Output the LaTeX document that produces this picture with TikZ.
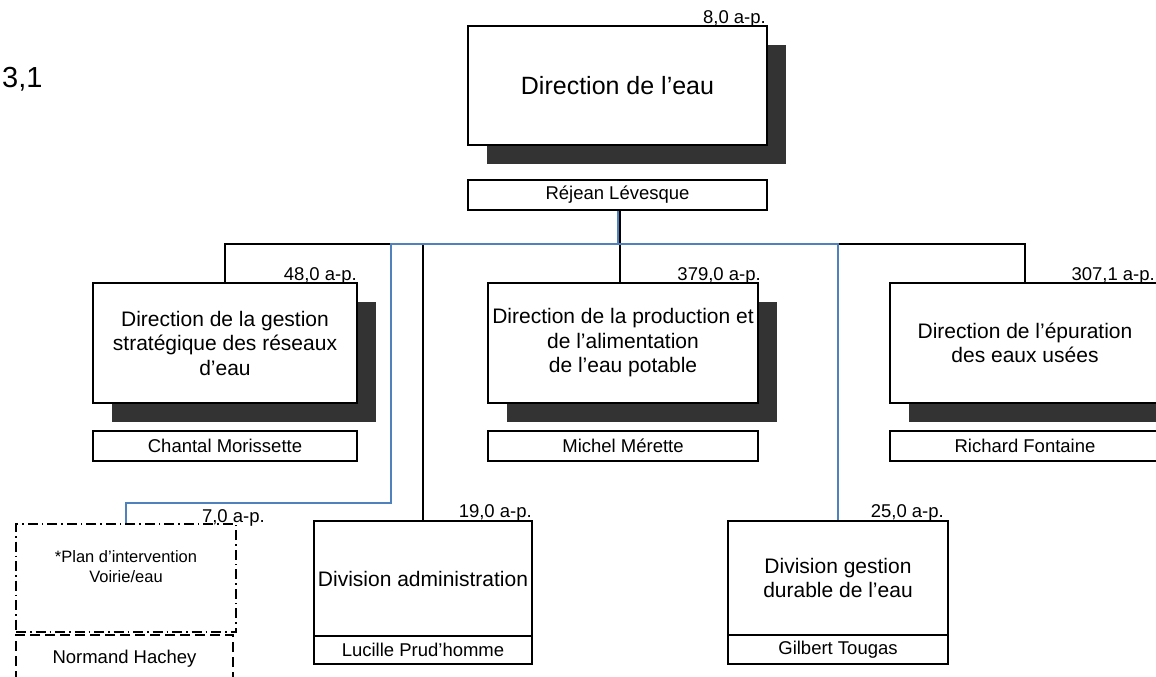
\documentclass[tikz,border=0pt]{standalone}
\usepackage{fontspec}
\setmainfont{Liberation Sans}
\usetikzlibrary{shadows}
\definecolor{lnblue}{RGB}{79,129,189}
\definecolor{shad}{RGB}{51,51,51}
\newcommand{\fbig}{\fontsize{25}{30}\selectfont}
\newcommand{\fmid}{\fontsize{21}{24.5}\selectfont}
\newcommand{\fnm}{\fontsize{18.5}{22}\selectfont}
\newcommand{\fsm}{\fontsize{16.5}{20}\selectfont}
\begin{document}
\begin{tikzpicture}[x=1pt,y=-1pt,
  box/.style={draw=black, line width=1.3pt, fill=white, inner sep=2pt, align=center},
  shbox/.style={box, drop shadow={shadow xshift=19pt, shadow yshift=-19pt, opacity=1, fill=shad, draw=none}},
  dbox/.style={draw=black, line width=1.1pt, dash pattern=on 10pt off 4pt on 1.5pt off 4pt},
  nbox/.style={draw=black, line width=1.1pt, dash pattern=on 10pt off 5pt},
  lbl/.style={inner sep=0pt, anchor=base east, font=\fnm},
  conn/.style={draw=black, line width=1.3pt},
  bconn/.style={draw=lnblue, line width=1.3pt}]
\clip (0,0) rectangle (1156,677);
\fill[white] (0,0) rectangle (1156,677);

% title number
\node[inner sep=0pt, anchor=base west, font=\fontsize{29}{34}\selectfont] (num) at (2,87) {3,1};

% top
\node[shbox, minimum width=299pt, minimum height=119pt, font=\fbig] (dir) at (617.5,85.5) {Direction de l’eau};
\node[lbl] (ldir) at (766,24) {8,0 a-p.};
\node[box, minimum width=299pt, minimum height=30pt, font=\fnm] (rej) at (617.5,195) {Réjean Lévesque};

% level 2
\node[shbox, minimum width=264pt, minimum height=120pt, font=\fmid] (gsr) at (225,343) {Direction de la gestion\\stratégique des réseaux\\d’eau};
\node[lbl] (lgsr) at (357,280) {48,0 a-p.};
\node[box, minimum width=264pt, minimum height=30pt, font=\fnm] (gsrn) at (225,446) {Chantal Morissette};

\node[shbox, minimum width=270pt, minimum height=120pt, font=\fmid] (prod) at (623,343) {Direction de la production et\\de l’alimentation\\de l’eau potable};
\node[lbl] (lprod) at (761,280) {379,0 a-p.};
\node[box, minimum width=270pt, minimum height=30pt, font=\fnm] (prodn) at (623,446) {Michel Mérette};

\node[shbox, minimum width=270pt, minimum height=120pt, font=\fmid] (epu) at (1025,343) {Direction de l’épuration\\des eaux usées};
\node[lbl] (lepu) at (1155,280) {307,1 a-p.};
\node[box, minimum width=270pt, minimum height=30pt, font=\fnm] (epun) at (1025,446) {Richard Fontaine};

% level 3
\node[dbox, minimum width=220pt, minimum height=108pt] (plan) at (126,578) {};
\node[inner sep=0pt, align=center, font=\fsm, yshift=11pt] (plant) at (plan.center) {*Plan d’intervention\\Voirie/eau};
\node[lbl] (lplan) at (265,522) {7,0 a-p.};
\node[nbox, minimum width=217pt, minimum height=85pt] (norm) at (124.5,677.5) {};
\coordinate (nb) at (0,663);
\node[inner sep=0pt, anchor=base, font=\fnm] (normt) at (norm.north |- nb) {Normand Hachey};

\node[box, minimum width=218pt, minimum height=115pt, font=\fmid] (adm) at (423,578.5) {Division administration};
\node[box, minimum width=218pt, minimum height=28pt, font=\fnm] (admn) at (423,650) {Lucille Prud’homme};
\node[lbl] (ladm) at (532,517) {19,0 a-p.};

\node[box, minimum width=220pt, minimum height=114pt, font=\fmid] (gde) at (838,578) {Division gestion\\durable de l’eau};
\node[box, minimum width=220pt, minimum height=29pt, font=\fnm] (gden) at (838,649.5) {Gilbert Tougas};
\node[lbl] (lgde) at (944,517) {25,0 a-p.};

% connectors
\coordinate (bus) at (0,244);
\coordinate (hub) at (620,244);
\coordinate (bhub) at (618,244);
\coordinate (bl) at (391,244);
\coordinate (bl2) at (391,503);
\draw[conn] (gsr.north) -- (gsr.north |- bus) -- (epu.north |- bus) -- (epu.north);
\draw[conn] (rej.south -| hub) -- (prod.north -| hub);
\draw[conn] (adm.north |- bus) -- (adm.north);
\draw[bconn] (rej.south -| bhub) -- (bhub);
\draw[bconn] (plan.north) -- (plan.north |- bl2) -- (bl2) -- (bl) -- (gde.north |- bus) -- (gde.north);
\end{tikzpicture}
\end{document}
